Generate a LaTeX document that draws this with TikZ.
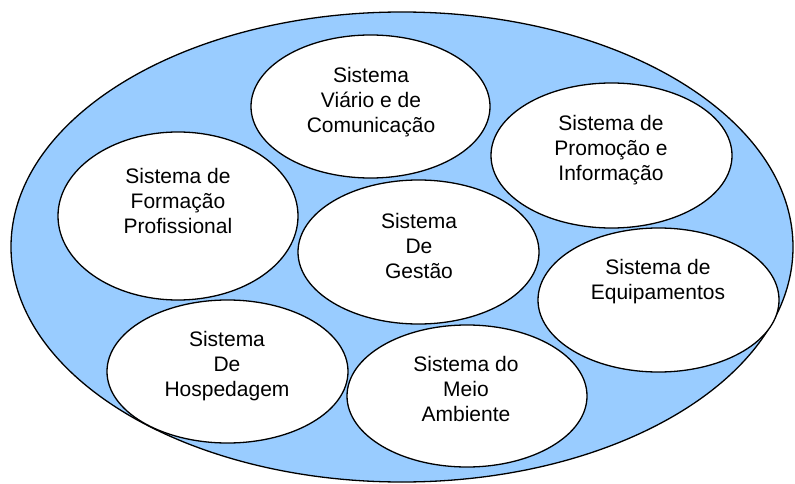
\documentclass[tikz,border=0pt]{standalone}
\usepackage{fontspec}
\setmainfont{Liberation Sans}
\usetikzlibrary{shapes.geometric}
\definecolor{OuterBlue}{RGB}{153, 204, 255}

\begin{document}
\begin{tikzpicture}[x=1pt, y=-1pt,
        outer/.style={draw, ellipse, fill=OuterBlue, line width=1.3pt,
                      inner sep=0pt},
        sys/.style={draw, ellipse, fill=white, line width=1.3pt,
                    inner sep=0pt, minimum width=241, minimum height=144},
        systext/.style={font=\fontsize{21}{25}\selectfont, align=center,
                        inner sep=0pt}
    ]
        \useasboundingbox (0,0) rectangle (795,484);

        % outer region
        \node[outer, minimum width=782, minimum height=470] (tourism) at (402,247) {};

        % subsystems
        \node[sys, minimum width=239, minimum height=143] (viario) at (370.5,106.5) {};
        \node[sys, minimum height=145] (promocao) at (611.5,155.5) {};
        \node[sys, minimum width=240, minimum height=168] (formacao) at (178,216) {};
        \node[sys] (gestao) at (418.5,252) {};
        \node[sys] (equip) at (658.5,300) {};
        \node[sys, minimum height=143] (hosped) at (227.5,371.5) {};
        \node[sys, minimum width=240, minimum height=142] (meio) at (467,396) {};

        \node[systext] (viarioT) at (371,102) {Sistema\\Viário e de\\Comunicação};
        \node[systext] (promocaoT) at (611,150) {Sistema de\\Promoção e\\Informação};
        \node[systext] (formacaoT) at (178,201) {Sistema de\\Formação\\Profissional};
        \node[systext] (gestaoT) at (419,246) {Sistema\\De\\Gestão};
        \node[systext] (equipT) at (658,282) {Sistema de\\Equipamentos};
        \node[systext] (hospedT) at (227,366) {Sistema\\De\\Hospedagem};
        \node[systext] (meioT) at (466,389) {Sistema do\\Meio\\Ambiente};
    \end{tikzpicture}
\end{document}
